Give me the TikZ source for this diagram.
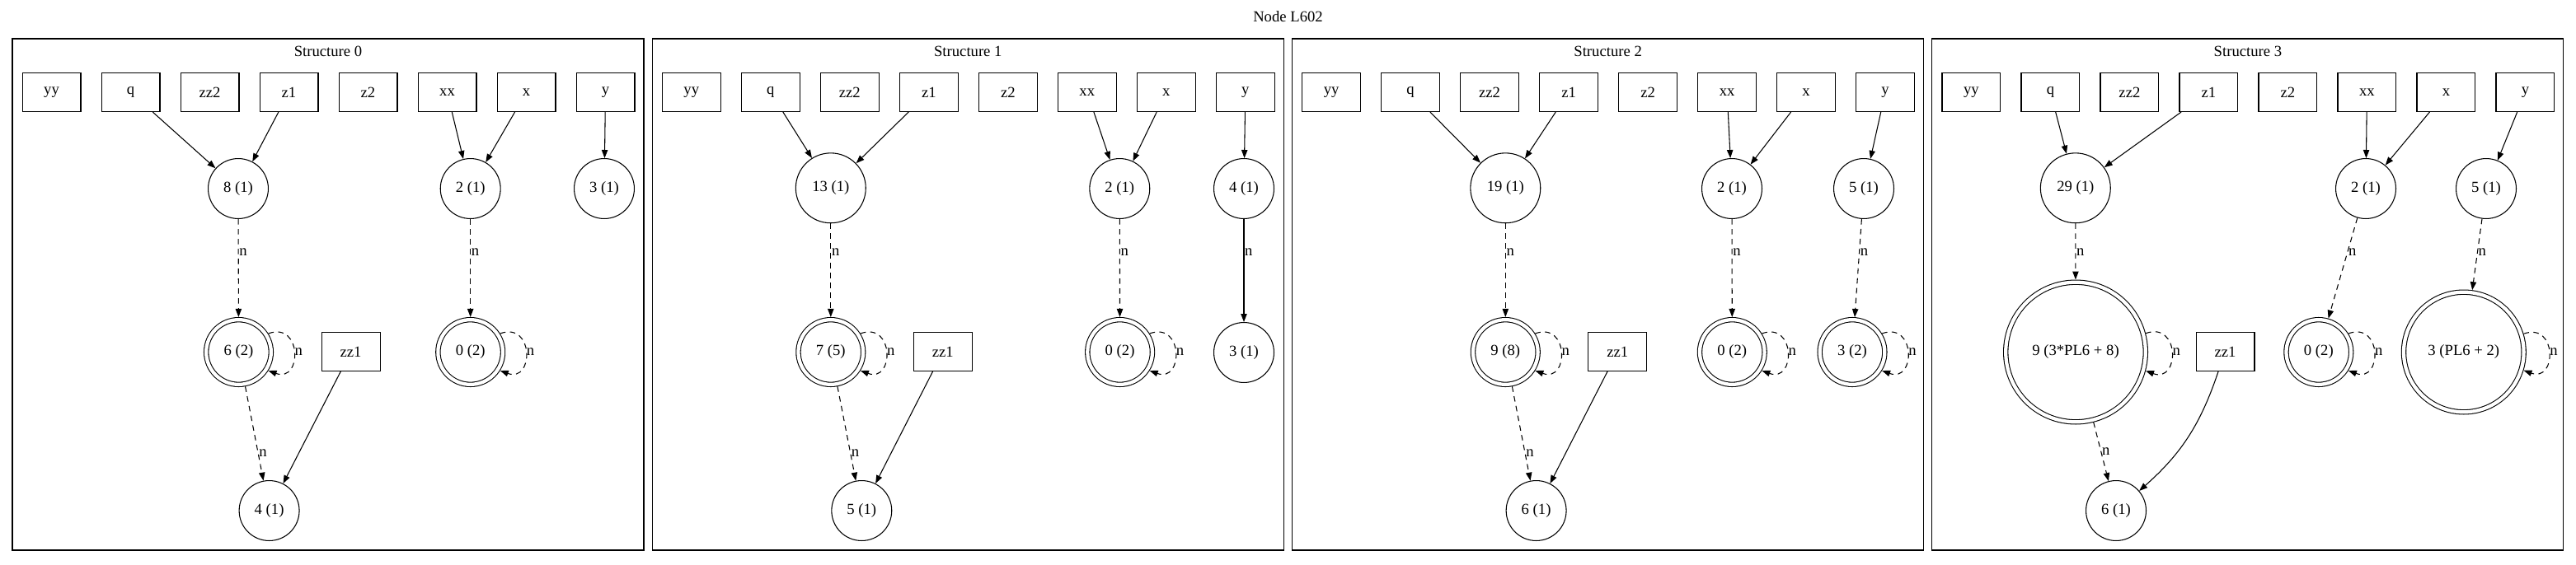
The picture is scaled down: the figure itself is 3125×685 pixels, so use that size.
\documentclass[tikz,border=0pt]{standalone}
\usepackage{fontspec}
\setmainfont{Liberation Serif}
\usetikzlibrary{arrows.meta,positioning}

\begin{document}
\begin{tikzpicture}[%
    x=0.75pt, y=0.75pt,                       % one unit is one pixel of the layout
    >={Triangle[length=7.5pt,width=5.5pt]},   % Graphviz-like filled heads
    line width=0.8pt,
    ]
% -------------------------------------------------
% Node and edge styles
\tikzset{
  txt/.style={font=\fontsize{14pt}{17pt}\selectfont},
  base/.style={draw, txt, inner sep=1pt},
  var/.style={base, rectangle, minimum width=53.2pt, minimum height=35.2pt},
  state/.style={base, circle, minimum size=54.7pt},
  wide/.style={state, minimum size=63.7pt},
  accept/.style={base, circle, double, double distance=3.2pt, outer sep=2.4pt, minimum size=59pt},
  frame/.style={draw},
  % Connector line styles
  norm/.style={->},
  nlink/.style={->, dash pattern=on 5pt off 4pt},
  selfloop/.style={nlink, out=20, in=-20, looseness=2.5},
  lbl/.style={txt, draw=none, anchor=west, inner sep=0.5pt}
}
\useasboundingbox (0,0) rectangle (3125,-685);
\node[txt] (title) at (1562.5,-20) {Node L602};
% -------------------------------------------------
% The four frames with their row of variables
\foreach \s in {0,...,3}{
  \draw[frame] ({15+776.3*\s},-47) rectangle +(766,-621);
  \node[txt] (head\s) at ({398+776.3*\s},-62) {Structure \s};
  \foreach \v [count=\j from 0] in {yy,q,zz2,z1,z2,xx,x,y}
    \node[var] (s\s-\v) at ({62.5+776.3*\s+96*\j},-112) {\v};
}
% -------------------------------------------------
% Structure 0
\node[state]  (s0-a)   at (289,-229)     {8 (1)};
\node[state]  (s0-b)   at (570.7,-229)   {2 (1)};
\node[state]  (s0-c)   at (733,-229)     {3 (1)};
\node[accept] (s0-d)   at (289.5,-427.5) {6 (2)};
\node[var]    (s0-zz1) at (425.6,-427)   {zz1};
\node[accept] (s0-e)   at (570.7,-427.5) {0 (2)};
\node[state]  (s0-f)   at (326.6,-620)   {4 (1)};

\draw[norm] (s0-q) -- (s0-a);
\draw[norm] (s0-z1) -- (s0-a);
\draw[norm] (s0-xx) -- (s0-b);
\draw[norm] (s0-x) -- (s0-b);
\draw[norm] (s0-y) -- (s0-c);
\draw[nlink] (s0-a) -- node[lbl, pos=.34] {n} (s0-d);
\draw[nlink] (s0-b) -- node[lbl, pos=.34] {n} (s0-e);
\draw[nlink] (s0-d) -- node[lbl, pos=.71] {n} (s0-f);
\draw[norm] (s0-zz1) -- (s0-f);
\draw[selfloop] (s0-d.32) to node[lbl] {n} (s0-d.-32);
\draw[selfloop] (s0-e.32) to node[lbl] {n} (s0-e.-32);

% -------------------------------------------------
% Structure 1
\node[wide]   (s1-a)   at (1007.8,-228.3) {13 (1)};
\node[state]  (s1-b)   at (1358.3,-229)   {2 (1)};
\node[state]  (s1-c)   at (1509,-229)     {4 (1)};
\node[accept] (s1-d)   at (1007.8,-427.5) {7 (5)};
\node[var]    (s1-zz1) at (1143.8,-427)   {zz1};
\node[accept] (s1-e)   at (1358.6,-427.5) {0 (2)};
\node[state]  (s1-g)   at (1509,-428)     {3 (1)};
\node[state]  (s1-f)   at (1045.3,-620)   {5 (1)};

\draw[norm] (s1-q) -- (s1-a);
\draw[norm] (s1-z1) -- (s1-a);
\draw[norm] (s1-xx) -- (s1-b);
\draw[norm] (s1-x) -- (s1-b);
\draw[norm] (s1-y) -- (s1-c);
\draw[nlink] (s1-a) -- node[lbl, pos=.31] {n} (s1-d);
\draw[nlink] (s1-b) -- node[lbl, pos=.34] {n} (s1-e);
\draw[norm] (s1-c) -- node[lbl, pos=.32] {n} (s1-g);
\draw[nlink] (s1-d) -- node[lbl, pos=.71] {n} (s1-f);
\draw[norm] (s1-zz1) -- (s1-f);
\draw[selfloop] (s1-d.32) to node[lbl] {n} (s1-d.-32);
\draw[selfloop] (s1-e.32) to node[lbl] {n} (s1-e.-32);

% -------------------------------------------------
% Structure 2
\node[wide]   (s2-a)   at (1826.3,-228.3) {19 (1)};
\node[state]  (s2-b)   at (2101,-229)     {2 (1)};
\node[state]  (s2-c)   at (2261,-229)     {5 (1)};
\node[accept] (s2-d)   at (1826.3,-427.5) {9 (8)};
\node[var]    (s2-zz1) at (1962.3,-427)   {zz1};
\node[accept] (s2-e)   at (2101.3,-427.5) {0 (2)};
\node[accept] (s2-g)   at (2247,-427.5)   {3 (2)};
\node[state]  (s2-f)   at (1863.6,-620)   {6 (1)};

\draw[norm] (s2-q) -- (s2-a);
\draw[norm] (s2-z1) -- (s2-a);
\draw[norm] (s2-xx) -- (s2-b);
\draw[norm] (s2-x) -- (s2-b);
\draw[norm] (s2-y) -- (s2-c);
\draw[nlink] (s2-a) -- node[lbl, pos=.31] {n} (s2-d);
\draw[nlink] (s2-b) -- node[lbl, pos=.34] {n} (s2-e);
\draw[nlink] (s2-c) -- node[lbl, pos=.34] {n} (s2-g);
\draw[nlink] (s2-d) -- node[lbl, pos=.71] {n} (s2-f);
\draw[norm] (s2-zz1) -- (s2-f);
\draw[selfloop] (s2-d.32) to node[lbl] {n} (s2-d.-32);
\draw[selfloop] (s2-e.32) to node[lbl] {n} (s2-e.-32);
\draw[selfloop] (s2-g.32) to node[lbl] {n} (s2-g.-32);

% -------------------------------------------------
% Structure 3
\node[wide]   (s3-a)   at (2517.8,-228.3) {29 (1)};
\node[state]  (s3-b)   at (2870,-229)     {2 (1)};
\node[state]  (s3-c)   at (3016,-229)     {5 (1)};
\node[accept, minimum size=127.2pt] (s3-d) at (2518,-427.5) {9 (3*PL6 + 8)};
\node[var]    (s3-zz1) at (2699.5,-427)   {zz1};
\node[accept] (s3-e)   at (2812.8,-427.5) {0 (2)};
\node[accept, minimum size=109.2pt] (s3-g) at (2988.8,-427.5) {3 (PL6 + 2)};
\node[state]  (s3-f)   at (2567,-620)     {6 (1)};

\draw[norm] (s3-q) -- (s3-a);
\draw[norm] (s3-z1) -- (s3-a);
\draw[norm] (s3-xx) -- (s3-b);
\draw[norm] (s3-x) -- (s3-b);
\draw[norm] (s3-y) -- (s3-c);
\draw[nlink] (s3-a) -- node[lbl, pos=.51] {n} (s3-d);
\draw[nlink] (s3-b) -- node[lbl, pos=.34] {n} (s3-e);
\draw[nlink] (s3-c) -- node[lbl, pos=.47] {n} (s3-g);
\draw[nlink] (s3-d) -- node[lbl, pos=.5] {n} (s3-f);
\draw[norm] (s3-zz1) to[bend left=15] (s3-f);
\draw[selfloop] (s3-d.15) to node[lbl] {n} (s3-d.-15);
\draw[selfloop] (s3-e.32) to node[lbl] {n} (s3-e.-32);
\draw[selfloop] (s3-g.17) to node[lbl] {n} (s3-g.-17);

% -------------------------------------------------
\end{tikzpicture}
\end{document}
